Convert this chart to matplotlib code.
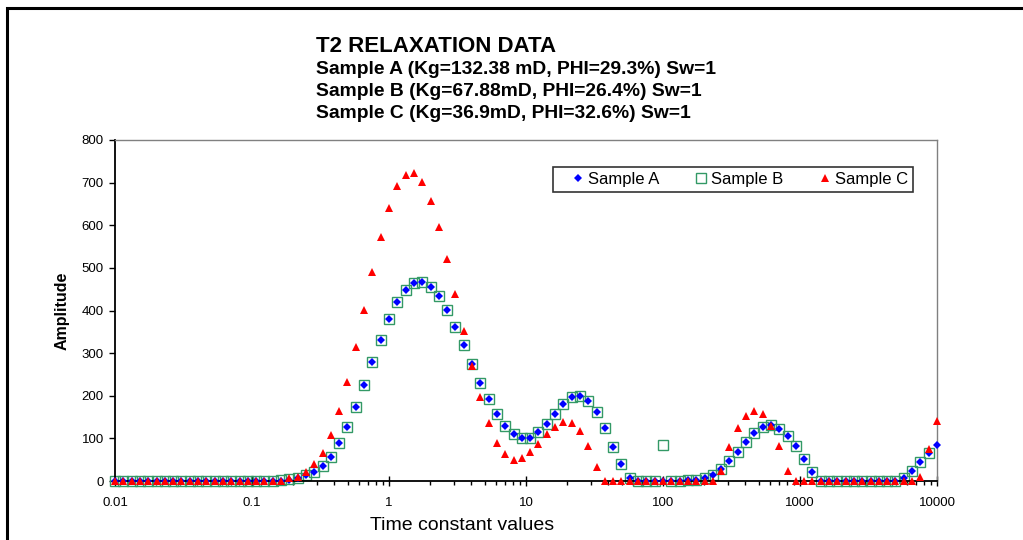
import numpy as np
import matplotlib
matplotlib.use("Agg")
import matplotlib.pyplot as plt
from matplotlib.patches import Rectangle
from matplotlib.ticker import FixedLocator, FixedFormatter, LogLocator, NullFormatter

plt.rcParams['font.family'] = ['Liberation Sans', 'DejaVu Sans']

# T2 bins: 100 log-spaced time constants, 0.01 .. 10000
time_const = np.logspace(-2, 4, 100)

sample_a = [0] * 20 + [
    1, 3, 6, 14, 20, 35, 57, 88, 127, 173,
    225, 279, 331, 380, 420, 448, 464, 467, 456, 434,
    401, 362, 319, 274, 231, 192, 157, 130, 110, 100,
    102, 114, 134, 157, 181, 196, 200, 188, 161, 124,
    80, 39, 8, 1, 0, 0, 0, 0, 1, 2,
    3, 6, 13, 27, 47, 68, 92, 113, 127, 131,
    123, 106, 81, 52, 22, 0, 0, 0, 0, 0,
    0, 0, 0, 0, 0, 6, 23, 45, 65, 85]

sample_b = [0] * 20 + [
    2, 4, 7, 14, 21, 35, 57, 88, 127, 173,
    225, 279, 331, 380, 420, 448, 465, 468, 456, 434,
    401, 362, 319, 274, 231, 192, 157, 130, 110, 100,
    102, 114, 134, 157, 181, 196, 200, 188, 161, 124,
    80, 39, 8, 1, 0, 0, 85, 0, 1, 2,
    3, 6, 13, 27, 47, 68, 92, 113, 127, 131,
    123, 106, 81, 52, 22, 0, 0, 0, 0, 0,
    0, 0, 0, 0, 0, 6, 23, 45, 65, np.nan]

sample_c = [0] * 21 + [
    6, 10, 20, 39, 66, 108, 164, 233, 314, 401,
    491, 573, 641, 692, 719, 722, 701, 657, 595, 520,
    438, 352, 270, 198, 135, 89, 63, 49, 53, 67,
    86, 110, 127, 138, 135, 117, 83, 32, 0, 0] + [0] * 12 + [
    23, 79, 125, 153, 165, 157, 129, 82, 24] + [0] * 15 + [
    10, 75, 141]

x_ticks = [0.01, 0.1, 1, 10, 100, 1000, 10000]
x_labels = ['0.01', '0.1', '1', '10', '100', '1000', '10000']

title = "T2 RELAXATION DATA"
subtitles = ["Sample A (Kg=132.38 mD, PHI=29.3%) Sw=1",
             "Sample B (Kg=67.88mD, PHI=26.4%) Sw=1",
             "Sample C (Kg=36.9mD, PHI=32.6%) Sw=1"]

W, H = 1023, 540
fig = plt.figure(figsize=(W / 100, H / 100), dpi=100)
ax = fig.add_axes([115 / W, 1 - 481 / H, 822 / W, 341 / H])

ax.plot(time_const, sample_a, ls='none', marker='D', ms=3.8, mew=0,
        color='#0000ff', label='Sample A', clip_on=False, zorder=3)
ax.plot(time_const, sample_b, ls='none', marker='s', ms=6.8, mew=1.0,
        mfc='none', mec='#339966', label='Sample B', clip_on=False, zorder=2)
ax.plot(time_const, sample_c, ls='none', marker='^', ms=6.4, mew=0,
        color='#ff0000', label='Sample C', clip_on=False, zorder=4)

ax.set_xscale('log')
ax.set_xlim(0.01, 10000)
ax.set_ylim(0, 800)
ax.set_yticks(range(0, 801, 100))

ax.xaxis.set_major_locator(FixedLocator(x_ticks))
ax.xaxis.set_major_formatter(FixedFormatter(x_labels))
ax.xaxis.set_minor_locator(LogLocator(base=10, subs=np.arange(2, 10), numticks=20))
ax.xaxis.set_minor_formatter(NullFormatter())

ax.tick_params(axis='x', which='major', direction='inout', length=7, width=1,
               labelsize=9.5, pad=8)
ax.tick_params(axis='x', which='minor', direction='out', length=3, width=1)
ax.tick_params(axis='y', direction='out', length=4, width=1, labelsize=9.5, pad=4)

for side in ['left', 'bottom']:
    ax.spines[side].set_color('black')
    ax.spines[side].set_linewidth(1.3)
for side in ['top', 'right']:
    ax.spines[side].set_color('#808080')
    ax.spines[side].set_linewidth(1.0)

ax.set_xlabel("Time constant values", fontsize=14, labelpad=6)
ax.xaxis.label.set_x((462 - 115) / 822)
ax.set_ylabel("Amplitude", fontsize=11.5, fontweight='bold', labelpad=9)

leg = ax.legend(loc='upper left', bbox_to_anchor=((553 - 115) / 822, (481 - 167) / 341),
                borderaxespad=0, ncol=3, fontsize=12, frameon=True, fancybox=False,
                handlelength=2.4, handletextpad=-0.6, columnspacing=1.3,
                borderpad=0.3, numpoints=1)
leg.get_frame().set_edgecolor('black')
leg.get_frame().set_linewidth(1.2)

fig.text(316 / W, 1 - 46 / H, title, fontsize=16, fontweight='bold', va='center')
for k, line in enumerate(subtitles):
    fig.text(316 / W, 1 - (69 + 22 * k) / H, line, fontsize=13.9,
             fontweight='bold', va='center')

# outer chart border (only left and top edges fall inside the picture)
fig.patches.append(Rectangle((7 / W, -0.1), 1.2, 1.1 - 8 / H, transform=fig.transFigure,
                             fill=False, edgecolor='black', linewidth=2.2))

fig.savefig("out.png", dpi=100)
